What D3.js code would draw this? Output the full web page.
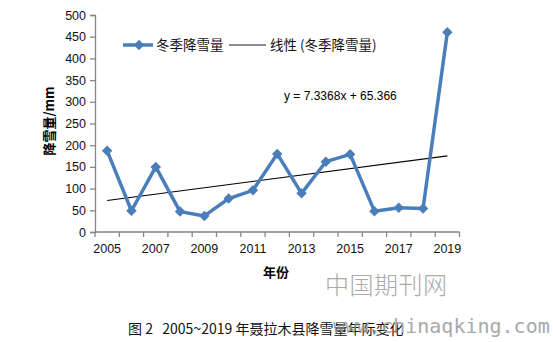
<!DOCTYPE html>
<html>
<head>
<meta charset="utf-8">
<script src="https://cdn.jsdelivr.net/npm/d3@7"></script>
<style>
  html, body { margin: 0; padding: 0; background: #fff; }
  svg { display: block; }
</style>
</head>
<body>
<svg id="chart" width="553" height="342"></svg>
<script>
// Winter snowfall by year, Nyalam County
const years = [2005, 2006, 2007, 2008, 2009, 2010, 2011, 2012, 2013, 2014, 2015, 2016, 2017, 2018, 2019];
const snowfall = [187, 49, 150, 47, 37, 77, 96, 180, 89, 162, 179, 48, 56, 54, 460];
const yTicks = [0, 50, 100, 150, 200, 250, 300, 350, 400, 450, 500];
const xTickLabels = [2005, 2007, 2009, 2011, 2013, 2015, 2017, 2019];
// Linear trend: y = slope * index + intercept (index starts at 1)
const trendSlope = 7.3368;
const trendIntercept = 65.366;

const svg = d3.select("#chart");
const plotLeft = 95, plotRight = 459.5, plotTop = 15, plotBottom = 232;
const axisColor = "#868686";
const lineColor = "#4a7ebb";
const latin = "'Liberation Sans', Arial, sans-serif";
const cjk = "'Noto Sans CJK SC', 'Noto Sans', sans-serif";

const x = d3.scaleBand().domain(years).range([plotLeft, plotRight]).padding(0);
const y = d3.scaleLinear().domain([0, 500]).range([plotBottom, plotTop]);
const cx = d => x(d) + x.bandwidth() / 2;

// Y axis
const yAxis = svg.append("g")
  .attr("transform", `translate(${plotLeft},0)`)
  .call(d3.axisLeft(y).tickValues(yTicks).tickSize(5).tickPadding(4));
yAxis.select(".domain").attr("stroke", axisColor).attr("stroke-width", 1.3);
yAxis.selectAll(".tick line").attr("stroke", axisColor).attr("stroke-width", 1.3);
yAxis.selectAll(".tick text")
  .attr("font-family", latin).attr("font-size", 12.5).attr("fill", "#111");

// X axis: ticks on category boundaries, labels on odd years
const xAxis = svg.append("g").attr("transform", `translate(0,${plotBottom})`);
xAxis.append("line")
  .attr("x1", plotLeft).attr("x2", plotRight)
  .attr("stroke", axisColor).attr("stroke-width", 1.3);
const bounds = years.map(d => x(d)).concat([plotRight]);
xAxis.selectAll("line.tk").data(bounds).join("line")
  .attr("class", "tk")
  .attr("x1", d => d).attr("x2", d => d)
  .attr("y1", 0).attr("y2", 5)
  .attr("stroke", axisColor).attr("stroke-width", 1.3);
xAxis.selectAll("text").data(xTickLabels).join("text")
  .attr("x", d => cx(d)).attr("y", 21)
  .attr("text-anchor", "middle")
  .attr("font-family", latin).attr("font-size", 12.5).attr("fill", "#111")
  .text(d => d);

// Trend line
const trendVal = i => trendSlope * (i + 1) + trendIntercept;
svg.append("line")
  .attr("x1", cx(years[0])).attr("y1", y(trendVal(0)))
  .attr("x2", cx(years[years.length - 1])).attr("y2", y(trendVal(years.length - 1)))
  .attr("stroke", "#000").attr("stroke-width", 1.1);

// Snowfall series
const line = d3.line().x((d, i) => cx(years[i])).y(d => y(d));
svg.append("path")
  .datum(snowfall)
  .attr("d", line)
  .attr("fill", "none")
  .attr("stroke", lineColor)
  .attr("stroke-width", 3.5)
  .attr("stroke-linejoin", "round");

const diamond = d3.symbol().type(d3.symbolDiamond2).size(70);
svg.selectAll("path.mk").data(snowfall).join("path")
  .attr("class", "mk")
  .attr("d", diamond)
  .attr("transform", (d, i) => `translate(${cx(years[i])},${y(d)})`)
  .attr("fill", lineColor);

// Legend
const lg = svg.append("g");
lg.append("line").attr("x1", 123).attr("x2", 153).attr("y1", 45).attr("y2", 45)
  .attr("stroke", lineColor).attr("stroke-width", 3.5);
lg.append("path").attr("d", diamond).attr("transform", "translate(139,45)").attr("fill", lineColor);
lg.append("text").attr("x", 156).attr("y", 50)
  .attr("font-family", cjk).attr("font-size", 13.5).attr("fill", "#111")
  .text("冬季降雪量");
lg.append("line").attr("x1", 229).attr("x2", 266).attr("y1", 45).attr("y2", 45)
  .attr("stroke", "#666").attr("stroke-width", 1.5);
lg.append("text").attr("x", 270).attr("y", 50)
  .attr("font-family", cjk).attr("font-size", 13.5).attr("fill", "#111")
  .text("线性 (冬季降雪量)");

// Trend equation
svg.append("text").attr("x", 284).attr("y", 100)
  .attr("font-family", latin).attr("font-size", 12).attr("fill", "#000")
  .text(`y = ${trendSlope}x + ${trendIntercept}`);

// Axis titles
svg.append("text")
  .attr("transform", "translate(54,121) rotate(-90)")
  .attr("text-anchor", "middle")
  .attr("font-family", cjk).attr("font-size", 13).attr("font-weight", "bold").attr("fill", "#000")
  .text("降雪量/mm");
svg.append("text").attr("x", 276).attr("y", 277)
  .attr("text-anchor", "middle")
  .attr("font-family", cjk).attr("font-size", 13).attr("font-weight", "bold").attr("fill", "#000")
  .text("年份");

// Site mark
svg.append("text").attr("x", 325).attr("y", 294)
  .attr("font-family", cjk).attr("font-size", 24).attr("font-weight", 300).attr("fill", "#aaa")
  .attr("letter-spacing", 0.5)
  .text("中国期刊网");

// Figure caption, with the site address stamped over its end
svg.append("text").attr("x", 128).attr("y", 334)
  .attr("font-family", cjk).attr("font-size", 14).attr("fill", "#111")
  .attr("xml:space", "preserve")
  .text("图 2   2005~2019 年聂拉木县降雪量年际变化");
svg.append("text").attr("x", 333).attr("y", 333)
  .attr("font-family", "'DejaVu Sans Mono', monospace").attr("font-size", 20).attr("fill", "#999")
  .attr("opacity", 0.85)
  .text("www.chinaqking.com");
</script>
</body>
</html>
